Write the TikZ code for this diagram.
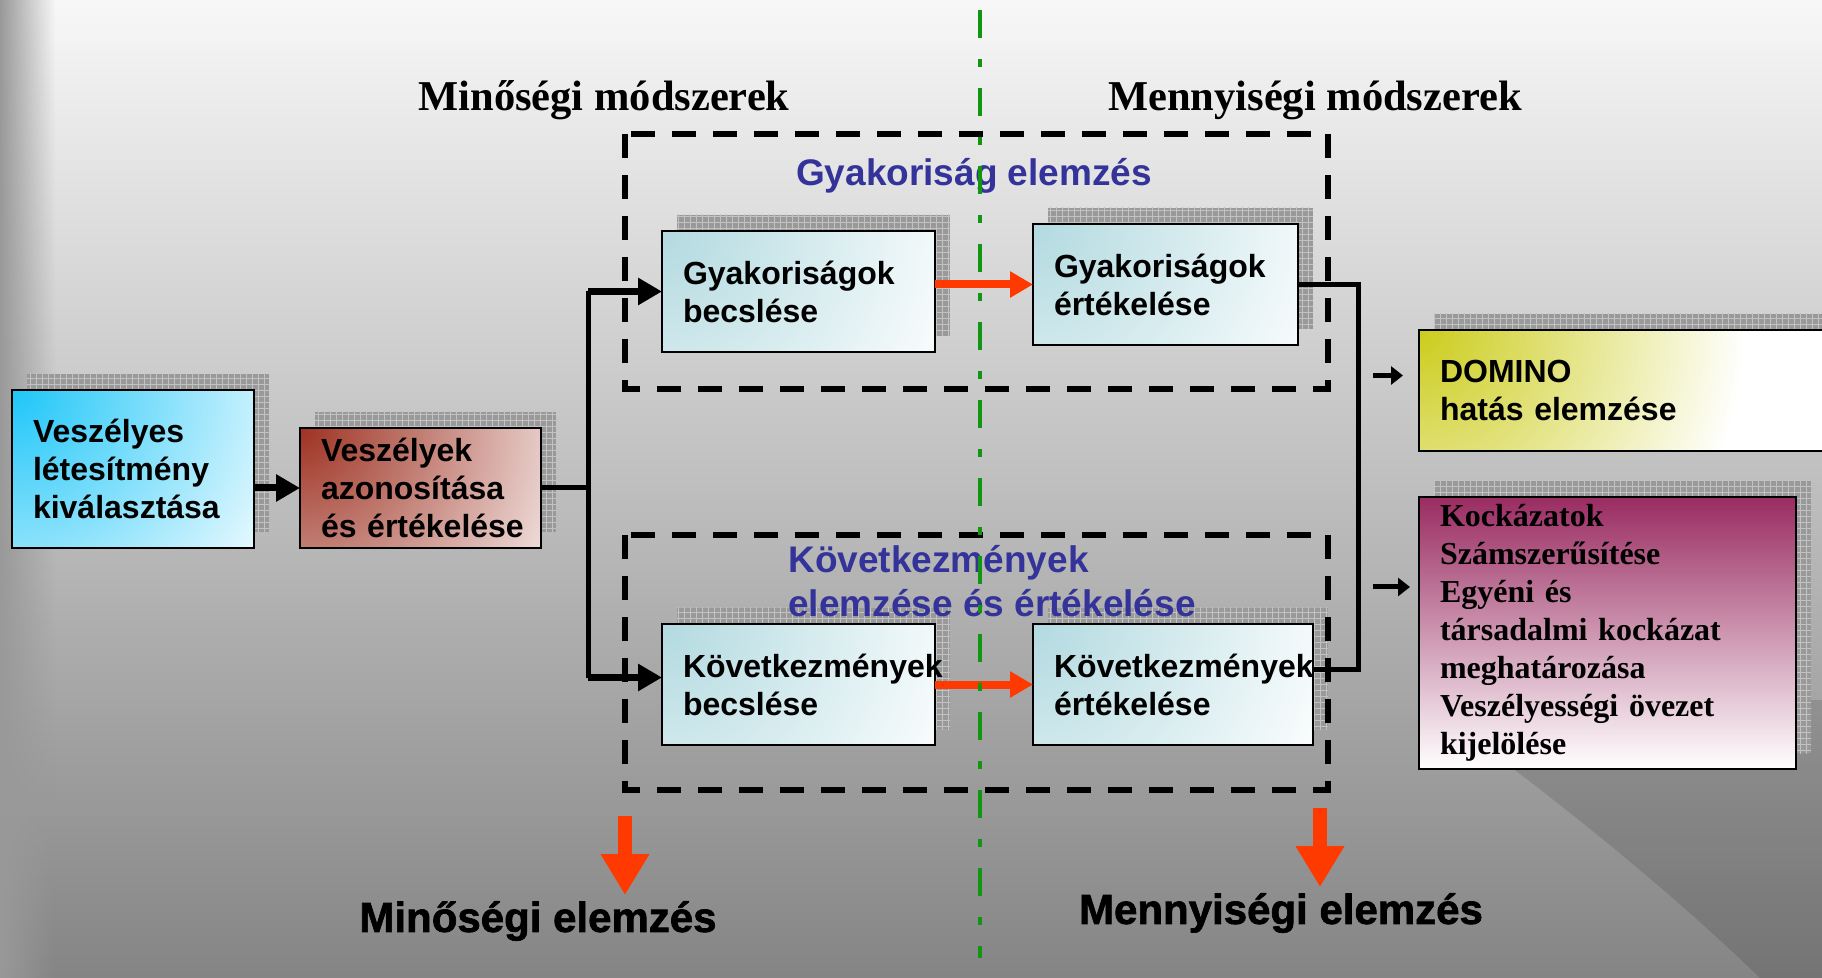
\documentclass[tikz,border=0pt]{standalone}
\usepackage{fontspec}
\setmainfont{Liberation Serif}
\setsansfont{Liberation Sans}
\newfontfamily\heavyfont[BoldFeatures={FakeBold=1.6}]{Liberation Sans}
\usepackage{tikz}
\usetikzlibrary{shapes,arrows.meta,positioning,calc,patterns,backgrounds,fadings}
\usepackage{xcolor}
\definecolor{hazcyan}{RGB}{30,198,248}
\definecolor{hazbrown}{RGB}{158,50,34}
\definecolor{stepteal}{RGB}{178,218,224}
\definecolor{dominoyellow}{RGB}{204,204,28}
\definecolor{riskmagenta}{RGB}{154,44,98}
\definecolor{labelblue}{RGB}{51,51,153}
\definecolor{flowred}{RGB}{255,58,0}
\definecolor{splitgreen}{RGB}{18,150,18}
% corner fades for the boxes
\pgfdeclareradialshading{fadehazcyan}{\pgfpoint{0bp}{0bp}}{color(0bp)=(hazcyan); color(12bp)=(white); color(50bp)=(white)}
\pgfdeclareradialshading{fadehazbrown}{\pgfpoint{0bp}{0bp}}{color(0bp)=(hazbrown); color(12bp)=(white); color(50bp)=(white)}
\pgfdeclareradialshading{fadestepteal}{\pgfpoint{0bp}{0bp}}{color(0bp)=(stepteal); color(12bp)=(white); color(50bp)=(white)}
\pgfdeclareradialshading{fadedominoyellow}{\pgfpoint{0bp}{0bp}}{color(0bp)=(dominoyellow); color(12bp)=(white); color(50bp)=(white)}

\begin{document}
\begin{tikzpicture}[x=0.5pt, y=-0.5pt,
    box/.style={rectangle, draw=black, line width=1pt, anchor=north west, align=left,
        font=\sffamily\bfseries\fontsize{16}{19}\selectfont,
        inner xsep=10.5pt, inner ysep=0pt, outer sep=0pt},
    diag/.style={fill=white, path picture={
        \shade[shading=fade#1] (path picture bounding box.north west) circle (340pt);}},
    shadowgrid/.style={preaction={fill=black!40}, pattern=grid, pattern color=black!24},
    groupbox/.style={draw=black, line width=3pt, dash pattern=on 12pt off 8.5pt},
    divider/.style={draw=splitgreen, line width=2.25pt, dash pattern=on 14pt off 10.5pt on 4pt off 10.5pt},
    header/.style={font=\rmfamily\bfseries\fontsize{21.25}{25}\selectfont, inner sep=0pt},
    grouplabel/.style={font=\sffamily\bfseries\fontsize{18.5}{22}\selectfont, text=labelblue, inner sep=0pt},
    resultlabel/.style={font=\heavyfont\bfseries\fontsize{21}{25}\selectfont, inner sep=0pt},
    blackarrow/.style={line width=3.5pt, -{Triangle[length=12pt, width=13pt]}},
    splitline/.style={line width=2.5pt},
    redarrow/.style={draw=flowred, line width=4pt, -{Triangle[length=11.5pt, width=12.5pt]}},
    smallarrow/.style={line width=2.5pt, -{Triangle[length=6pt, width=9pt]}},
    bigred/.style={draw=flowred, line width=7pt, -{Triangle[length=20.5pt, width=23pt]}}]

    \useasboundingbox (0,0) rectangle (1822,978);
    % background
    \begin{scope}[on background layer]
        \shade[top color=black!3, middle color=black!22, bottom color=black!48] (0,0) rectangle (1822,978);
        \fill[black, opacity=0.12] (1420,700) .. controls (1560,800) and (1680,900) .. (1760,978) -- (1822,978) -- (1822,700) -- cycle;
        \fill[black!40, path fading=east] (0,0) rectangle (55,978);
    \end{scope}

    \node[header] (qualhead) at (604,100) {Minőségi módszerek};
    \node[header] (quanthead) at (1315,100) {Mennyiségi módszerek};

    % groups
    \draw[groupbox] (625,134) rectangle (1328,389);
    \draw[groupbox] (625,535) rectangle (1328,790);
    \node[grouplabel] (freqlabel) at (974,176) {Gyakoriság elemzés};
    \node[grouplabel, anchor=west, align=left] (conslabel) at (788,581) {Következmények\\elemzése és értékelése};

    % boxes
    \node[box, diag=hazcyan, text width=100pt, minimum height=79pt] (hazsel) at (12,390)
        {Veszélyes\\létesítmény\\kiválasztása};
    \node[box, diag=hazbrown, text width=99.5pt, minimum height=60pt,
        right=23pt of hazsel.south east, anchor=south west] (hazid)
        {Veszélyek\\azonosítása\\és~értékelése};
    \node[box, diag=stepteal, text width=115.5pt, minimum height=60.5pt] (gyb) at (662,231)
        {Gyakoriságok\\becslése};
    \node[box, diag=stepteal, text width=111.5pt, minimum height=60.5pt] (gye) at (1033,224)
        {Gyakoriságok\\értékelése};
    \node[box, diag=stepteal, text width=115.5pt, minimum height=60.5pt] (kvb) at (662,624)
        {Következmények\\becslése};
    \node[box, diag=stepteal, text width=119pt, minimum height=60.5pt] (kve) at (1033,624)
        {Következmények\\értékelése};
    \node[box, diag=dominoyellow, text width=194pt, minimum height=60.5pt] (domino) at (1419,330)
        {DOMINO\\hatás elemzése};
    \node[box, top color=riskmagenta, bottom color=white, text width=167.5pt, minimum height=136pt,
        font=\rmfamily\bfseries\fontsize{16}{19}\selectfont] (kock) at (1419,497)
        {Kockázatok\\Számszerűsítése\\Egyéni és\\társadalmi kockázat\\meghatározása\\Veszélyességi övezet\\kijelölése};

    \begin{scope}[on background layer]
        \foreach \n in {hazsel,hazid,gyb,gye,kvb,kve,domino,kock}
            \fill[shadowgrid] ([shift={(15,-16)}]\n.north west) rectangle ([shift={(15,-16)}]\n.south east);
    \end{scope}

    % connectors
    \draw[blackarrow] (hazsel.east |- hazid.west) -- (hazid.west);
    \coordinate (split) at ($(hazid.east)+(47,0)$);
    \coordinate (kvbin) at ([yshift=3.5pt]kvb.west);
    \draw[splitline] (hazid.east) -- (split);
    \draw[splitline] (split |- gyb.west) -- (split |- kvbin);
    \draw[blackarrow] (split |- gyb.west) -- (gyb.west);
    \draw[blackarrow] (split |- kvbin) -- (kvbin);
    \draw[redarrow] (gyb.east |- gye.west) -- (gye.west);
    \draw[redarrow] (kvb.east) -- (kve.west);
    \draw[splitline] (gye.east) -- ++(60,0) coordinate (join) |- ([yshift=7.75pt]kve.east);

    \coordinate (dominoin) at ($(domino.west)+(-16,-15)$);
    \coordinate (dominofrom) at ($(dominoin)+(-30,0)$);
    \draw[smallarrow] (dominofrom) -- (dominoin);
    \coordinate (kockin) at ($(kock.west)+(-9,-46)$);
    \coordinate (kockfrom) at ($(kockin)+(-37,0)$);
    \draw[smallarrow] (kockfrom) -- (kockin);

    % results
    \coordinate (qualfrom) at (625,816);
    \coordinate (qualto) at (625,895);
    \coordinate (quantfrom) at (1320,808);
    \coordinate (quantto) at (1320,887);
    \draw[bigred] (qualfrom) -- (qualto);
    \draw[bigred] (quantfrom) -- (quantto);
    \node[resultlabel] (qualres) at (538,921) {Minőségi elemzés};
    \node[resultlabel] (quantres) at (1281,913) {Mennyiségi elemzés};

    \coordinate (divtop) at (980,10);
    \coordinate (divbottom) at (980,958);
    \draw[divider] (divtop) -- (divbottom);
\end{tikzpicture}
\end{document}
